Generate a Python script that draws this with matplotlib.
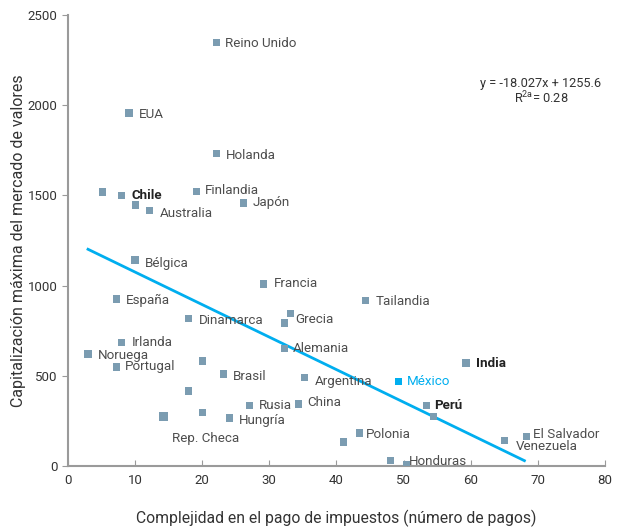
import numpy as np
import matplotlib
matplotlib.use("Agg")
import matplotlib.pyplot as plt
from matplotlib import font_manager

# pick a narrow face if one is there
names_avail = set(f.name for f in font_manager.fontManager.ttflist)
base_font = "Liberation Sans Narrow" if "Liberation Sans Narrow" in names_avail else "Roboto"
plt.rcParams["font.family"] = [base_font, "DejaVu Sans"]
plt.rcParams["mathtext.default"] = "regular"

# data
countries = ["Reino Unido", "EUA", "Holanda", "", "Chile", "", "Australia", "Finlandia",
             "Japón", "Bélgica", "Francia", "España", "Dinamarca", "", "Grecia", "Irlanda",
             "Noruega", "Portugal", "", "Alemania", "Brasil", "Argentina", "", "Rusia",
             "China", "Rep. Checa", "", "Hungría", "Tailandia", "India", "México", "Perú",
             "", "Polonia", "", "", "Honduras", "El Salvador", "Venezuela"]
pagos = [22.2, 9.1, 22.1, 5.1, 8.0, 10.1, 12.1, 19.1,
         26.2, 10.0, 29.1, 7.2, 18.0, 33.2, 32.2, 8.0,
         3.0, 7.2, 20.1, 32.2, 23.2, 35.3, 18.0, 27.1,
         34.3, 14.2, 20.1, 24.1, 44.3, 59.3, 49.3, 53.4,
         54.4, 43.4, 41.1, 48.1, 50.4, 68.3, 65.1]
capitalizacion = [2350, 1957, 1730, 1519, 1502, 1447, 1414, 1524,
                  1458, 1142, 1009, 926, 820, 843, 793, 687,
                  621, 549, 582, 649, 510, 493, 416, 338,
                  344, 277, 299, 266, 920, 571, 471, 338,
                  272, 183, 133, 33, 11, 166, 139]

slope, intercept = -18.027, 1255.6
fit_range = [3, 68]

# label offsets in pixels (dx, dy)
offsets = {
    "Reino Unido": (8, -1), "EUA": (10, -2), "Holanda": (10, -2), "Chile": (10, 0),
    "Australia": (11, -3), "Finlandia": (9, 1), "Japón": (9, 0), "Bélgica": (10, -3),
    "Francia": (11, 0), "España": (10, -1), "Dinamarca": (10, -2), "Grecia": (11, 3),
    "Irlanda": (10, 0), "Noruega": (10, -2), "Portugal": (9, 0), "Alemania": (9, 0),
    "Brasil": (9, -2), "Argentina": (10, -4), "Rusia": (9, 0), "China": (9, 1),
    "Hungría": (9, -2), "Rep. Checa": (9, -22), "Tailandia": (10, -1), "India": (10, 0),
    "México": (8, 0), "Perú": (8, 0), "Polonia": (7, -1), "Honduras": (3, 3),
    "El Salvador": (7, 2), "Venezuela": (11, -6),
}
bold = ["Chile", "India", "Perú"]

marker_col = "#7b9cb1"
cyan = "#00aeef"
grey = "#9a9a9a"

fig = plt.figure(figsize=(6.17, 5.27), dpi=100)
ax = fig.add_axes([0.110, 0.1157, 0.8705, 0.8558])

cols = [cyan if c == "México" else marker_col for c in countries]
sizes = [42 if c == "Rep. Checa" else 26 for c in countries]
ax.scatter(pagos, capitalizacion, marker="s", s=sizes, c=cols, linewidths=0, zorder=3)

xf = np.array(fit_range)
ax.plot(xf, slope * xf + intercept, color=cyan, lw=2, zorder=2)

for name, x, y in zip(countries, pagos, capitalizacion):
    if not name:
        continue
    dx, dy = offsets[name]
    color = cyan if name == "México" else ("#222222" if name in bold else "#4d4d4d")
    ax.annotate(name, (x, y), xytext=(dx, dy), textcoords="offset pixels",
                ha="left", va="center", fontsize=9.6, color=color,
                fontweight="bold" if name in bold else "normal")

ax.text(0.881, 0.849, "y = -18.027x + 1255.6", transform=ax.transAxes,
        ha="center", va="center", fontsize=9.2, color="#333333")
ax.text(0.881, 0.816, r"R$^{2a}$= 0.28", transform=ax.transAxes,
        ha="center", va="center", fontsize=9.2, color="#333333")

ax.set_xlim(0, 80)
ax.set_ylim(0, 2500)
ax.set_xticks(range(0, 81, 10))
ax.set_yticks(range(0, 2501, 500))

for s in ["top", "right"]:
    ax.spines[s].set_visible(False)
for s in ["left", "bottom"]:
    ax.spines[s].set_color(grey)
    ax.spines[s].set_linewidth(1.5)
ax.tick_params(axis="y", direction="out", length=4, color=grey, labelsize=9.5, labelcolor="#333333")
ax.tick_params(axis="x", direction="in", length=4, color=grey, labelsize=9.5, labelcolor="#333333", pad=6)

ax.set_xlabel("Complejidad en el pago de impuestos (número de pagos)", fontsize=11.3,
              color="#333333", labelpad=16)
ax.set_ylabel("Capitalización máxima del mercado de valores", fontsize=11.5,
              color="#333333", labelpad=1)

plt.savefig("out.png", dpi=100)
plt.close("all")
